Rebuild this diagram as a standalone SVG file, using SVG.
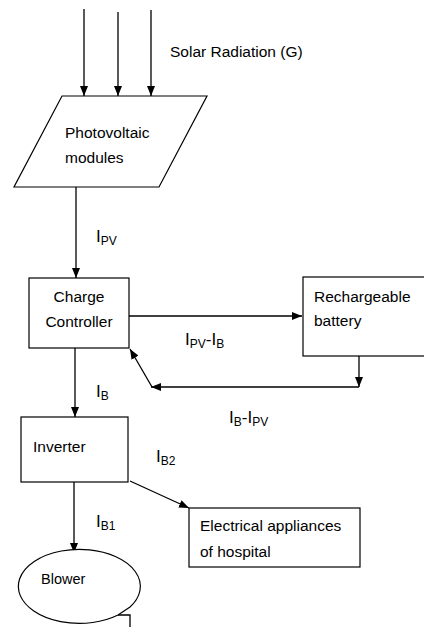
<svg xmlns="http://www.w3.org/2000/svg" width="424" height="627" viewBox="0 0 424 627">
<style>
.box{fill:#fff;stroke:#000;stroke-width:1.2}
.t{font-family:"Liberation Sans",Arial,sans-serif;font-size:15.5px;fill:#000}
.lbl{font-family:"Liberation Sans",Arial,sans-serif;font-size:17px;fill:#000}
.sub{font-size:12px}
.c{fill:none;stroke:#000;stroke-width:1.3}
</style>
<defs>
<marker id="ah" markerUnits="userSpaceOnUse" markerWidth="10" markerHeight="8" refX="10" refY="4" orient="auto">
<path d="M0,0 L10,4 L0,8 z" fill="#000"/>
</marker>
</defs>
<rect width="424" height="627" fill="#fff"/>
<g id="connectors">
<line class="c" x1="84" y1="9" x2="84" y2="96" marker-end="url(#ah)"/>
<line class="c" x1="118" y1="12" x2="118" y2="96" marker-end="url(#ah)"/>
<line class="c" x1="151" y1="10" x2="151" y2="96" marker-end="url(#ah)"/>
<line class="c" x1="76" y1="187" x2="76" y2="278" marker-end="url(#ah)"/>
<line class="c" x1="129" y1="316" x2="302" y2="316" marker-end="url(#ah)"/>
<line class="c" x1="359" y1="356" x2="359" y2="387" marker-end="url(#ah)"/>
<line class="c" x1="359" y1="387" x2="151" y2="387" marker-end="url(#ah)"/>
<line class="c" x1="152" y1="387" x2="130" y2="349" marker-end="url(#ah)"/>
<line class="c" x1="75" y1="348" x2="75" y2="417" marker-end="url(#ah)"/>
<line class="c" x1="130" y1="481" x2="189" y2="508" marker-end="url(#ah)"/>
<line class="c" x1="74" y1="482" x2="74" y2="553" marker-end="url(#ah)"/>
</g>
<g id="labels">
<text class="t" x="170" y="57">Solar Radiation (G)</text>
<text class="lbl" x="96" y="242">I<tspan class="sub" dy="2.5">PV</tspan></text>
<text class="lbl" x="185" y="345">I<tspan class="sub" dy="2.5">PV</tspan><tspan dy="-2.5">-I</tspan><tspan class="sub" dy="2.5">B</tspan></text>
<text class="lbl" x="96" y="397">I<tspan class="sub" dy="2.5">B</tspan></text>
<text class="lbl" x="229" y="423">I<tspan class="sub" dy="2.5">B</tspan><tspan dy="-2.5">-I</tspan><tspan class="sub" dy="2.5">PV</tspan></text>
<text class="lbl" x="156" y="462">I<tspan class="sub" dy="2.5">B2</tspan></text>
<text class="lbl" x="96" y="527">I<tspan class="sub" dy="2.5">B1</tspan></text>
</g>
<g id="pv">
<polygon class="box" points="62,96 207,96 159,187 14,187"/>
<text class="t" x="65" y="138">Photovoltaic</text>
<text class="t" x="65" y="163">modules</text>
</g>
<g id="controller">
<rect class="box" x="29" y="278" width="100" height="70"/>
<text class="t" x="79" y="302" text-anchor="middle">Charge</text>
<text class="t" x="79" y="327" text-anchor="middle">Controller</text>
</g>
<g id="battery">
<rect class="box" x="303" y="277" width="130" height="79"/>
<text class="t" x="314" y="302">Rechargeable</text>
<text class="t" x="314" y="326">battery</text>
</g>
<g id="inverter">
<rect class="box" x="21" y="417" width="107" height="65"/>
<text class="t" x="33" y="452">Inverter</text>
</g>
<g id="appliances">
<rect class="box" x="189" y="508" width="171" height="59"/>
<text class="t" x="200" y="531">Electrical appliances</text>
<text class="t" x="200" y="557">of hospital</text>
</g>
<g id="blower">
<path class="box" d="M118,615 A61 37 0 1 1 130,607 Z"/>
<path class="c" d="M118,615 H130 V630"/>
<text class="t" x="41" y="584" style="font-size:14.5px">Blower</text>
</g>
</svg>
